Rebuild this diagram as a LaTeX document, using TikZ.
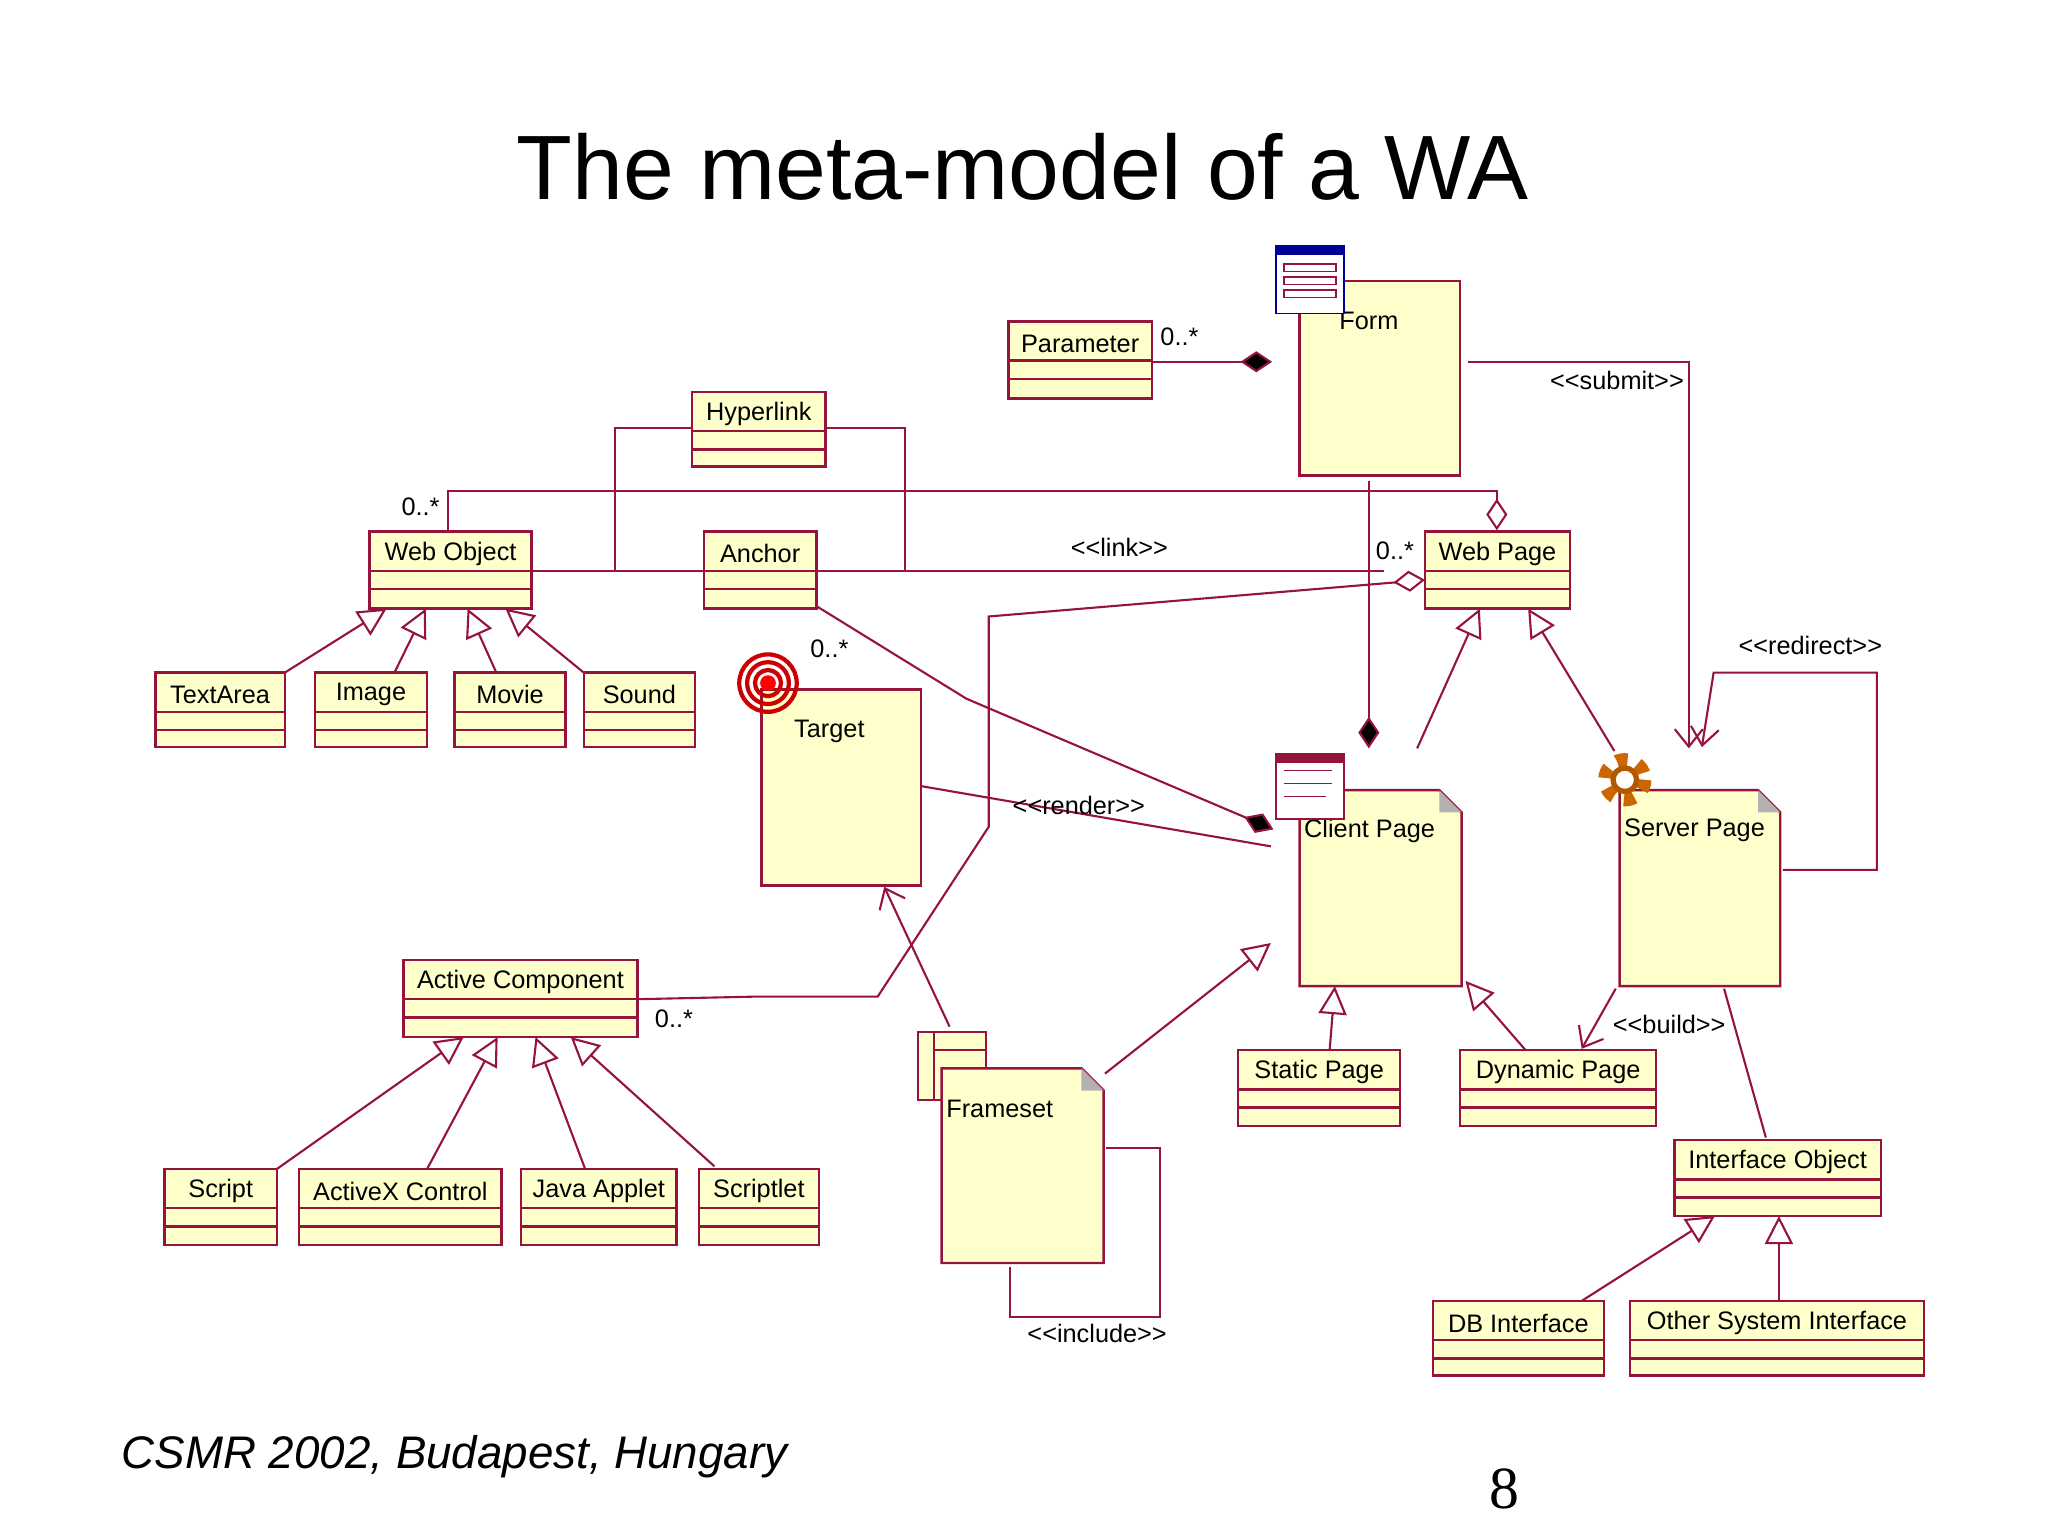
\documentclass[tikz,border=0pt]{standalone}
\usepackage{fontspec}
\setmainfont{Liberation Sans}
\usetikzlibrary{fit,arrows.meta,calc}
\definecolor{ln}{RGB}{150,20,60}
\definecolor{yel}{RGB}{255,255,204}
\tikzset{
 x=0.013061cm,y=-0.013061cm,
 cbox/.style={draw=ln,fill=yel,line width=0.7pt,inner sep=0pt},
 txt/.style={font=\fontsize{7.2}{9}\selectfont,inner sep=0pt},
 lbl/.style={font=\fontsize{7.2}{9}\selectfont,inner sep=0pt},
 con/.style={draw=ln,line width=0.6pt},
 gen/.style={con,-{Triangle[open,length=8pt,width=8pt,fill=white]}},
 dep/.style={con,-{Straight Barb[length=5pt,width=8pt]}},
 comp/.style={con,-{Diamond[length=9pt,width=6pt,fill=black]}},
 aggr/.style={con,-{Diamond[open,length=9pt,width=6pt,fill=white]}},
}
\newcommand\st[1]{{<}{<}#1{>}{>}}
\newcommand\cls[6]{\node[fit={(#2,#3)(#4,#5)},cbox] (#1) {};
 \draw[ln,line width=0.7pt] (#2,#3+30)--(#4,#3+30) (#2,#3+44)--(#4,#3+44);
 \node[txt] at ({(#2+#4)/2},#3+17) {#6};}
\newcommand\note[6]{\coordinate (#1-nw) at (#2,#3); \coordinate (#1-se) at (#4,#5);
 \fill[yel] (#2,#3)--(#4-17,#3)--(#4,#3+17)--(#4,#5)--(#2,#5)--cycle;
 \draw[ln,line width=0.7pt] (#2,#3)--(#4-17,#3)--(#4,#3+17)--(#4,#5)--(#2,#5)--cycle;
 \fill[gray!60] (#4-17,#3)--(#4,#3+17)--(#4-17,#3+17)--cycle;
 \node[fit=(#1-nw)(#1-se),inner sep=0pt] (#1) {};
 \node[txt,anchor=west] at (#2+3,#3+31) {#6};}
\begin{document}
\begin{tikzpicture}
\useasboundingbox (0,0) rectangle (1568,1176);
\fill[white] (0,0) rectangle (1568,1176);
\node[font=\fontsize{26}{30}\selectfont] at (783,128) {The meta-model of a WA};
\node[font=\fontsize{13}{15}\selectfont\itshape] at (348,1115) {CSMR 2002, Budapest, Hungary};
\node[font=\fontsize{17}{18}\selectfont] at (1152,1140) {\fontspec{Liberation Serif}8};

% classes
\cls{par}{772}{246}{882}{305}{Parameter}
\node[fit={(995,215)(1118,364)},cbox] (form) {};
\node[txt] at (1048,246) {Form};
\cls{hyp}{530}{300}{632}{357}{Hyperlink}
\cls{wo}{283}{407}{407}{466}{Web Object}
\cls{an}{539}{407}{625}{466}{Anchor}
\cls{wp}{1091}{407}{1202}{466}{Web Page}
\cls{ta}{119}{515}{218}{572}{TextArea}
\cls{im}{241}{515}{327}{572}{Image}
\cls{mo}{348}{515}{433}{572}{Movie}
\cls{so}{447}{515}{532}{572}{Sound}
\node[fit={(583,528)(705,678)},cbox] (tg) {};
\node[txt] at (635,560) {Target};
\note{cp}{995}{605}{1119}{755}{Client Page}
\note{sp}{1240}{605}{1363}{755}{Server Page}
\cls{ac}{309}{735}{488}{794}{Active Component}
\cls{sc}{126}{895}{212}{953}{Script}
\cls{ax}{229}{895}{384}{953}{ActiveX Control}
\cls{ja}{399}{895}{518}{953}{Java Applet}
\cls{sl}{535}{895}{627}{953}{Scriptlet}
\draw[ln,fill=yel,line width=0.7pt] (703,790) rectangle (755,842) (715,790)--(715,842) (715,804)--(755,804);
\note{fs}{721}{818}{845}{967}{Frameset}
\cls{st}{948}{804}{1072}{862}{Static Page}
\cls{dy}{1118}{804}{1268}{862}{Dynamic Page}
\cls{io}{1282}{873}{1440}{931}{Interface Object}
\cls{db}{1097}{996}{1228}{1053}{DB Interface}
\cls{ot}{1248}{996}{1473}{1053}{Other System Interface}

% icons
\draw[fill=white,draw=blue!60!black] (977,188) rectangle (1029,240);
\fill[blue!60!black] (977,188) rectangle (1029,195);
\foreach \yy in {202,212,222}{\draw[ln] (983,\yy) rectangle (1023,\yy+6);}
\draw[fill=white,draw=ln] (977,577) rectangle (1029,627);
\fill[ln] (977,577) rectangle (1029,584);
\draw[ln] (983,590)--(1020,590) (983,600)--(1020,600) (983,610)--(1015,610);
\foreach \r in {22,16,10}{\draw[red!80!black,line width=1.2pt] (588,523) circle (\r);}
\fill[red] (588,523) circle (6);
\draw[orange!80!black,line width=4pt,dash pattern=on 3pt off 3pt] (1244,597) circle (15);
\draw[orange!70!black,line width=1.5pt] (1244,597) circle (9);

% connectors
\draw[comp] (par.east|-882,277) -- (974,277);
\node[lbl] at (903,258) {0..*};
\draw[dep] (1124,277) -- (1293,277) -- (1293,573);
\node[lbl] at (1238,291) {\st{submit}};
\draw[con] (hyp.west|-530,328) -- (471,328) -- (471,437);
\draw[con] (hyp.east|-632,328) -- (693,328) -- (693,437);
\draw[con] (wo.east|-407,437) -- (an.west|-539,437);
\draw[con] (an.east|-625,437) -- (1060,437);
\node[lbl] at (857,419) {\st{link}};
\node[lbl] at (1068,422) {0..*};
\draw[aggr] (343,407) -- (343,376) -- (1146,376) -- (wp.north-|1146,407);
\node[lbl] at (322,388) {0..*};
\draw[aggr] (ac.east|-488,765) -- (580,763) -- (672,763) -- (757,633) -- (757,472) -- (1091,444);
\node[lbl] at (516,780) {0..*};
\draw[comp] (1048,368) -- (1048,573);
\draw[comp] (625,464) -- (740,535) -- (975,635);
\node[lbl] at (635,497) {0..*};
\draw[con] (tg.east|-709,602) -- (973,648);
\node[lbl] at (826,617) {\st{render}};
\draw[gen] (1085,573) -- (1133,466);
\draw[gen] (1236,575) -- (1170,466);
\draw[gen] (218,515) -- (296,466);
\draw[gen] (302,515) -- (326,466);
\draw[gen] (380,515) -- (358,466);
\draw[gen] (447,515) -- (387,466);
\draw[gen] (212,895) -- (355,794);
\draw[gen] (327,895) -- (381,794);
\draw[gen] (448,895) -- (410,794);
\draw[gen] (547,893) -- (437,794);
\draw[dep] (727,786) -- (677,679);
\draw[gen] (846,822) -- (973,722);
\draw[con] (847,879) -- (888,879) -- (888,1008) -- (773,1008) -- (773,970);
\node[lbl] at (840,1021) {\st{include}};
\draw[gen] (1018,804) -- (1022,755);
\draw[gen] (1168,804) -- (1122,751);
\draw[dep] (1237,757) -- (1211,803);
\node[lbl] at (1278,784) {\st{build}};
\draw[dep] (1365,666) -- (1437,666) -- (1437,515) -- (1312,515) -- (1303,572);
\node[lbl] at (1386,494) {\st{redirect}};
\draw[con] (1320,757) -- (1352,871);
\draw[gen] (1211,996) -- (1313,931);
\draw[gen] (1362,996) -- (1362,931);
\end{tikzpicture}
\end{document}
